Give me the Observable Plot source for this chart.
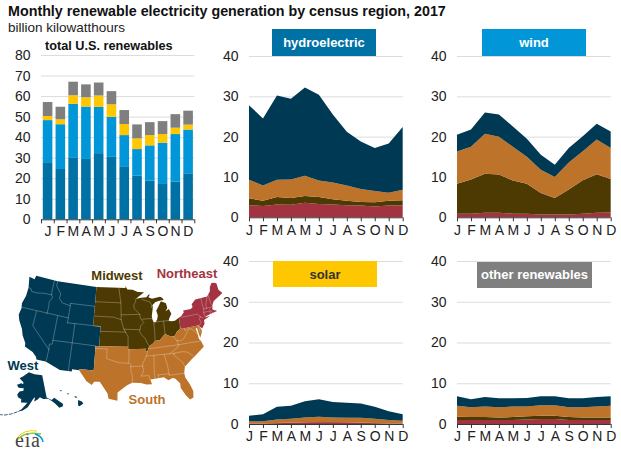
<!DOCTYPE html>
<html><head><meta charset="utf-8">
<script src="https://cdn.jsdelivr.net/npm/d3@7"></script>
<script src="https://cdn.jsdelivr.net/npm/@observablehq/plot@0.6"></script>
<style>
html,body{margin:0;padding:0;background:#fff}
#c{position:relative;width:621px;height:450px;overflow:hidden;font-family:"Liberation Sans",Arial,sans-serif}
#c>*{position:absolute}
#c svg{overflow:visible}
.box{display:flex;align-items:center;justify-content:center;font-weight:bold;font-size:13px;color:#fff}
.lab{font-weight:bold;font-size:13px;transform:translate(-50%,-50%);white-space:nowrap}
</style></head><body><div id="c"></div>
<script>
const months = ["J","F","M","A","M","J","J","A","S","O","N","D"];
const regions = ["Northeast","Midwest","South","West"];
const regionColors = ["#a33340","#4c3a02","#bd732a","#003953"];
const sourceColors = ["#0071a4","#0096d7","#ffc700","#7f7f7f"];
// cumulative top of each region's band, bottom to top, billion kWh
const hydroNortheast = [3,2.8,3.2,3.1,3.6,3.3,3.2,3,2.9,2.7,2.9,2.9];
const hydroMidwest = [4.7,4.1,5,4.8,5.3,5,4.5,4.1,3.8,3.7,4.1,4.2];
const hydroSouth = [9.3,7.9,9.3,9.4,10.3,9.1,8.6,7.9,7,6.5,6.1,6.8];
const hydroWest = [27.8,24.5,30.2,29.4,32.2,30.4,25.5,21.2,18.8,17.2,18.3,22.4];
const windNortheast = [.9,.9,1.1,1.1,.9,.9,.7,.7,.7,.9,1.1,1.2];
const windMidwest = [8.3,9.4,10.8,10.6,9.1,8.3,6,4.8,6.9,9.2,10.7,9.5];
const windSouth = [16.3,17.5,20.7,20,17.5,15,11.8,10,13.6,16.4,19.3,17.2];
const windWest = [20.5,21.8,26,25.5,22.5,19.5,15.5,13,17.2,20.1,23.2,21.3];
const solarNortheast = [.1,.1,.2,.3,.4,.4,.4,.4,.3,.2,.1,.1];
const solarMidwest = [.15,.15,.25,.35,.45,.5,.5,.45,.35,.25,.15,.15];
const solarSouth = [.6,.7,1.1,1.3,1.6,1.8,1.6,1.5,1.5,1.3,1,.8];
const solarWest = [2,2.4,4.2,4.5,5.6,6.1,5.4,5.2,5,4.2,3.1,2.4];
const otherNortheast = [1,1,1,1,1,1.1,1.2,1.2,1,1,1,1];
const otherMidwest = [1.8,1.7,1.7,1.6,1.7,1.9,2,2,1.7,1.6,1.6,1.6];
const otherSouth = [4.5,4.1,4.3,4.1,4.3,4.3,4.6,4.6,4.1,4.1,4.3,4.5];
const otherWest = [6.8,6.1,6.6,6.3,6.3,6.4,6.8,6.8,6.3,6.3,6.6,6.8];
const panels = [
 {name:"hydroelectric",tops:[hydroNortheast,hydroMidwest,hydroSouth,hydroWest]},
 {name:"wind",tops:[windNortheast,windMidwest,windSouth,windWest]},
 {name:"solar",tops:[solarNortheast,solarMidwest,solarSouth,solarWest]},
 {name:"other renewables",tops:[otherNortheast,otherMidwest,otherSouth,otherWest]}
];
const barTicks=[0,10,20,30,40,50,60,70,80], areaTicks=[0,10,20,30,40];

// map outlines, [lon,lat]
const westOutline=[[-124.7,48.4],[-123,48.2],[-122.8,49],[-116.05,49],[-104.05,49],[-104.05,41],[-102.05,41],[-102.05,37],[-103,37],[-103,32],[-106.6,32],[-106.5,31.8],[-108.2,31.8],[-108.2,31.33],[-111.07,31.33],[-114.8,32.5],[-117.1,32.5],[-117.3,33],[-118.4,33.8],[-119.2,34.1],[-120.6,34.5],[-120.7,35.2],[-121.9,36.6],[-122.5,37.8],[-123.8,39.3],[-124.4,40.4],[-124.2,41.8],[-124.5,42.8],[-124,44.5],[-124,46.2],[-124.7,48.4]];
const midwestOutline=[[-104.05,49],[-95.15,49],[-95.15,49.4],[-94.6,48.7],[-93,48.6],[-91.5,48.1],[-89.6,48],[-92.1,46.75],[-90.5,46.9],[-89,46.9],[-88.4,47.4],[-87.9,47.47],[-88.4,46.9],[-87.4,46.5],[-85,46.75],[-84.4,46.5],[-84,46],[-85,46],[-86.5,45.8],[-87.6,45.1],[-88,44.55],[-87.3,45.2],[-87.5,44.3],[-87.9,43],[-87.8,42.3],[-87.5,41.7],[-87,41.7],[-86.5,42.2],[-86.2,43],[-86.5,44],[-85.6,45],[-85,45.7],[-84.7,45.75],[-83.5,45.3],[-83.3,44.3],[-83.9,43.7],[-82.9,44.05],[-82.4,43],[-83.1,42.2],[-83.4,41.7],[-82.7,41.5],[-81.7,41.5],[-80.52,41.97],[-80.52,40.64],[-80.7,39.7],[-81.7,39.2],[-82.2,38.6],[-82.6,38.4],[-83.7,38.6],[-84.8,39.1],[-85.4,38.7],[-86.3,38],[-87.6,37.9],[-88.1,37.5],[-89.1,37],[-89.5,36.5],[-89.7,36],[-90.37,36],[-90.1,36.5],[-94.62,36.5],[-94.62,37],[-102.05,37],[-102.05,41],[-104.05,41],[-104.05,49]];
const northeastOutline=[[-80.52,40.64],[-80.52,41.97],[-79.76,42.27],[-78.9,42.9],[-79,43.3],[-76.8,43.3],[-76.2,43.6],[-76.3,44.2],[-75,45],[-71.5,45],[-71.1,45.3],[-70.3,45.9],[-70,46.7],[-69.2,47.45],[-68.3,47.35],[-67.8,47.05],[-67.8,45.7],[-67,44.85],[-68.5,44.3],[-70,43.8],[-70.7,43],[-70.8,42.6],[-71,42.3],[-70.6,41.95],[-70,41.8],[-70,41.6],[-71.2,41.5],[-72.9,41.25],[-73.65,41],[-72,41.1],[-73.9,40.55],[-74,39.8],[-74.9,38.95],[-75.5,39.5],[-75.6,39.72],[-79.48,39.72],[-80.52,39.72],[-80.52,40.64]];
const southOutline=[[-103,37],[-102.05,37],[-94.62,37],[-94.62,36.5],[-90.1,36.5],[-90.37,36],[-89.7,36],[-89.5,36.5],[-89.1,37],[-88.1,37.5],[-87.6,37.9],[-86.3,38],[-85.4,38.7],[-84.8,39.1],[-83.7,38.6],[-82.6,38.4],[-82.2,38.6],[-81.7,39.2],[-80.7,39.7],[-80.52,40.64],[-80.52,39.72],[-79.48,39.72],[-75.6,39.72],[-75.5,39.5],[-75.05,38.45],[-75.9,37.2],[-76.1,38.3],[-76.2,39.3],[-76.6,39.2],[-76.4,38.3],[-76.3,37],[-75.9,36.6],[-75.5,35.3],[-76.6,34.7],[-77.9,33.9],[-79.2,33.2],[-81,32],[-81.4,30.7],[-81.3,29.8],[-80.5,28.3],[-80,26.8],[-80.2,25.5],[-81,25.2],[-81.8,26.2],[-82.7,27.8],[-82.7,28.8],[-83.7,29.9],[-84.3,30.05],[-85.3,29.7],[-86.3,30.4],[-88,30.3],[-89.5,30.2],[-89.2,29.2],[-90.5,29.2],[-91.8,29.6],[-93.8,29.7],[-95,29.2],[-97.2,27.7],[-97.2,26],[-99.2,26.4],[-99.5,27.5],[-101.4,29.8],[-102.7,29.7],[-103.2,29],[-104.5,29.7],[-106.5,31.8],[-106.6,32],[-103,32],[-103,37]];
const alaskaOutline=[[-141,69.6],[-141,60.3],[-137.5,58.9],[-135,59.5],[-130,55.9],[-131,55],[-133.5,55],[-135.5,57],[-137.5,58.5],[-140,59.7],[-144,60],[-146.5,60.9],[-148.5,60],[-151.5,59.3],[-150.5,61],[-152,60.5],[-154,59],[-156.5,57],[-160,55.5],[-164,54.6],[-161,56],[-158,58],[-157,58.8],[-162,58.7],[-162,60],[-165,60.6],[-166,61.7],[-164.5,63],[-161,63.6],[-161,64.6],[-166,64.5],[-168,65.6],[-164,66.5],[-162,66.2],[-162,67],[-166.7,68.4],[-163,69.5],[-156.6,71.3],[-150,70.5],[-141,69.6]];
const aleutians=[[-164,54.6],[-168,53.3],[-172,52.3],[-174.5,52]];
const hawaiiOutlines=[[[-155.9,20.2],[-155.1,19.9],[-154.8,19.5],[-155.6,18.95],[-155.9,19.1],[-155.9,20.2]],[[-156.7,21],[-156,20.8],[-156.4,20.6],[-156.7,21]],[[-158.2,21.6],[-157.7,21.4],[-158.1,21.3],[-158.2,21.6]],[[-159.8,22.2],[-159.3,22.1],[-159.5,21.9],[-159.8,22.2]]];
const stateBorders=[
[[-124,46.25],[-123.2,46.15],[-122.8,45.65],[-121.2,45.65],[-119.3,45.93],[-116.92,46]],
[[-117.04,49],[-117.04,46.4],[-116.92,46],[-116.5,45.5],[-117.2,44.4],[-117.03,43.8],[-117.03,42]],
[[-124.2,42],[-111.05,42]],[[-120,42],[-120,39],[-114.6,35],[-114.7,32.7]],
[[-114.04,42],[-114.04,36.2],[-114.75,36.1],[-114.6,35]],
[[-116.05,49],[-116.05,48],[-114.4,46.6],[-114.5,45.6],[-113.4,44.8],[-111.05,44.5]],
[[-111.05,45],[-104.05,45]],[[-111.05,45],[-111.05,41]],[[-111.05,41],[-102.05,41]],
[[-114.04,37],[-103,37]],[[-109.05,41],[-109.05,31.33]],
[[-104.05,45.94],[-96.56,45.94]],[[-104.05,43],[-98.5,43],[-96.45,42.5]],
[[-97.2,49],[-96.56,45.94],[-96.45,43.5],[-96.45,42.5],[-95.9,41],[-95.3,40]],
[[-102.05,40],[-95.3,40]],[[-95.3,40],[-94.62,39.1],[-94.62,37]],[[-96.45,43.5],[-91.2,43.5]],
[[-92.1,46.75],[-92.3,46.1],[-92.8,45.5],[-92.7,44.7],[-91.2,43.5],[-91.1,42.7],[-90.2,41.8],[-91.1,41.2],[-91.4,40.4],[-91.5,40],[-90.7,39],[-90.2,38.7],[-89.5,37.3],[-89.1,37]],
[[-95.8,40.58],[-91.4,40.4]],[[-90.64,42.5],[-87.8,42.5]],[[-90.4,46.55],[-88.1,45.9],[-87.6,45.1]],
[[-87.5,41.7],[-87.5,39.3],[-87.6,37.9]],[[-84.8,41.7],[-84.8,39.1]],[[-87,41.76],[-83.4,41.72]],
[[-103,36.5],[-100,36.5],[-100,34.55],[-97,33.8],[-94.5,33.65]],[[-94.43,36.5],[-94.43,35.4],[-94.5,33.65]],
[[-94.05,33.55],[-94.05,33],[-94,31.9],[-93.7,31],[-93.8,29.7]],[[-94.05,33],[-91.15,33]],
[[-89.7,36],[-90.1,35],[-91.1,33.5],[-91.15,33],[-91,32],[-91.6,31]],[[-91.6,31],[-89.75,31],[-89.6,30.2]],
[[-88.2,35],[-88.45,31.9],[-88.4,30.3]],[[-90.1,35],[-83.1,35]],[[-84.3,35],[-82,36.1],[-81.7,36.6]],
[[-89.5,36.5],[-88,36.5],[-81.7,36.6],[-75.9,36.55]],[[-85.6,35],[-85.1,32.5],[-85,31],[-84.9,30.7]],
[[-87.6,31],[-85,31],[-84.9,30.7],[-81.5,30.7]],[[-87.6,31],[-87.5,30.3]],
[[-83.1,35],[-83.3,34.7],[-81.4,33],[-81,32]],[[-83.1,35],[-81,35.1],[-79.7,34.8],[-78.6,33.9]],
[[-81.7,36.6],[-82,37.5],[-82.6,38.2],[-82.6,38.4]],[[-82,37.5],[-81,37.3],[-80.3,37.5],[-79,38.8],[-78.3,39.4],[-77.7,39.3]],
[[-77.7,39.3],[-77,38.7],[-76.3,37.95]],[[-75.7,39.7],[-75.7,38.45],[-75.05,38.45]],[[-79.48,39.72],[-79.48,39.2],[-78.3,39.6]],
[[-79.76,42],[-75.35,42],[-74.7,41.35]],[[-74.7,41.35],[-75.1,40.9],[-74.75,40.2],[-75.5,39.7]],[[-74.7,41.35],[-74,41]],
[[-73.35,45],[-73.35,43.6],[-73.27,42.75],[-73.5,42.05],[-73.5,41.3]],[[-73.5,42.05],[-71.38,42.02],[-71.1,41.5]],[[-71.8,42.02],[-71.8,41.4]],
[[-73.27,42.75],[-71.3,42.7],[-70.8,42.87]],[[-71.5,45],[-72.4,43.5],[-72.46,42.73]],[[-71.08,45.3],[-70.97,43.4],[-70.7,43.07]]
];

const c=document.getElementById("c");
const font='"Liberation Sans",Arial,sans-serif';
function place(el,x,y){el.style.left=x+"px";el.style.top=y+"px";c.appendChild(el);return el}
function html(cls,txt,x,y,w,h,css){const d=document.createElement("div");d.className=cls;d.textContent=txt;
 if(w)d.style.width=w+"px";if(h)d.style.height=h+"px";Object.assign(d.style,css||{});return place(d,x,y)}

html("","Monthly renewable electricity generation by census region, 2017",8,3,0,0,{fontWeight:"bold",fontSize:"14.3px",color:"#111",whiteSpace:"nowrap"});
html("","billion kilowatthours",8,20,0,0,{fontSize:"13.5px",color:"#222",whiteSpace:"nowrap"});

function frame(x0,x1,yTop,y0,marks,x,y){
 const mt=5,mb=26,ml=36,mr=6;
 const p=Plot.plot({width:ml+(x1-x0)+mr,height:mt+(y0-yTop)+mb,marginTop:mt,marginBottom:mb,marginLeft:ml,marginRight:mr,
  style:{background:"transparent",fontFamily:font,fontSize:"14px",color:"#222"},x:{...x,axis:null,label:null},y:{...y,axis:null,label:null},marks});
 place(p,x0-ml,yTop-mt);
}
const axisLeft=t=>Plot.axisY({ticks:t,tickSize:0,tickPadding:11,tickFormat:d=>d,fontSize:14,fill:"#222",label:null});
const grid=t=>Plot.gridY(t,{stroke:"#dcdcdc",strokeOpacity:1,strokeWidth:1});

// total bars
const barRows=[];
months.forEach((m,i)=>{let b=0;panels.forEach((p,s)=>{const v=p.tops[3][i];barRows.push({i,y1:b,y2:b+v,color:sourceColors[s]});b+=v})});
frame(40.7,194,54.7,219,[
 grid(barTicks.slice(1)),
 Plot.rectY(barRows,{x1:d=>d.i+.14,x2:d=>d.i+.89,y1:"y1",y2:"y2",fill:d=>d.color}),
 Plot.ruleY([0],{stroke:"#333"}),
 Plot.axisX({ticks:d3.range(13),tickSize:4,text:null,stroke:"#333",label:null}),
 Plot.axisX({ticks:d3.range(12).map(i=>i+.5),tickSize:0,tickPadding:6,tickFormat:d=>months[Math.floor(d)],fontSize:14,fill:"#222",label:null}),
 axisLeft(barTicks)
],{domain:[0,12]},{domain:[0,80]});

// area panels
const geom=[{x0:249,x1:402.7,yT:56,y0:217.3,box:[272,29,104,27]},{x0:457,x1:610.7,yT:56,y0:217.3,box:[482,29,104,27]},
 {x0:249,x1:402.7,yT:261.3,y0:424.3,box:[273,261,104,26]},{x0:457,x1:610.7,yT:261.3,y0:424.3,box:[477,261.5,115,26]}];
panels.forEach((p,k)=>{const g=geom[k];
 const bands=p.tops.map((top,r)=>Plot.areaY(months.map((m,i)=>({i,y1:r?p.tops[r-1][i]:0,y2:top[i]})),{x:"i",y1:"y1",y2:"y2",fill:regionColors[r]}));
 frame(g.x0,g.x1,g.yT,g.y0,[
  grid(areaTicks.slice(1)),...bands,
  Plot.ruleY([0],{stroke:"#333"}),
  Plot.axisX({ticks:d3.range(12),tickSize:4,tickPadding:3,tickFormat:d=>months[d],fontSize:14,fill:"#222",stroke:"#333",label:null}),
  axisLeft(areaTicks)
 ],{domain:[0,11]},{domain:[0,40]});
 html("box",p.name,g.box[0],g.box[1],g.box[2],g.box[3],{background:sourceColors[k],color:k==2?"#333":"#fff"});
});
html("","total U.S. renewables",45,39,0,0,{fontWeight:"bold",fontSize:"12.7px",color:"#111",whiteSpace:"nowrap"});

// map
const feat=(ring)=>({type:"Feature",geometry:{type:"Polygon",coordinates:[ring]}});
function fitted(base,sx,sy,tx,ty){const t=d3.geoTransform({point(x,y){this.stream.point(x*sx+tx,y*sy+ty)}});
 return {stream:s=>base.stream(t.stream(s))}}
function layer(projection,marks){place(Plot.plot({width:230,height:200,margin:0,projection,style:{background:"transparent"},marks}),0,250)}
layer(fitted(d3.geoAlbers().scale(262).translate([0,0]),1.077,1.07,120,88),[
 Plot.geo([feat(westOutline)],{fill:regionColors[3]}),
 Plot.geo([feat(midwestOutline)],{fill:regionColors[1]}),
 Plot.geo([feat(southOutline)],{fill:regionColors[2]}),
 Plot.geo([feat(northeastOutline)],{fill:regionColors[0]}),
 Plot.geo([{type:"MultiLineString",coordinates:stateBorders}],{stroke:"#fff",strokeOpacity:.45,strokeWidth:.6,fill:"none"})
]);
layer(d3.geoConicEqualArea().rotate([154,0]).center([-2,58.5]).parallels([55,65]).scale(140).translate([28,153]),[
 Plot.geo([feat(alaskaOutline)],{fill:regionColors[3]}),
 Plot.geo([{type:"LineString",coordinates:aleutians}],{stroke:regionColors[3],strokeWidth:.8,strokeDasharray:"3,2",fill:"none"})
]);
layer(d3.geoConicEqualArea().rotate([157,0]).center([-3,19.9]).parallels([8,18]).scale(290).translate([58,151]),[
 Plot.geo(hawaiiOutlines.map(feat),{fill:regionColors[3]})
]);
[["Midwest",117,275,1],["Northeast",187,273,0],["West",23,365,3],["South",147,399,2]].forEach(([t,x,y,r])=>html("lab",t,x,y,0,0,{color:regionColors[r],width:"auto"}));

// logo
html("","eia",15,429,0,0,{fontFamily:'"Liberation Serif",serif',fontSize:"20px",color:"#444",letterSpacing:"0.8px",whiteSpace:"nowrap"});
const ns="http://www.w3.org/2000/svg";const lg=document.createElementNS(ns,"svg");lg.setAttribute("width",30);lg.setAttribute("height",14);
lg.innerHTML='<path d="M3 11Q10 3 26 6" fill="none" stroke="#8dc63f" stroke-width="1.5"/><path d="M20 6Q27 8 28 14" fill="none" stroke="#0096d7" stroke-width="1.5"/><path d="M2 10Q9 1 22 3" fill="none" stroke="#ffc700" stroke-width="1"/>';
place(lg,15,428);
</script></body></html>
